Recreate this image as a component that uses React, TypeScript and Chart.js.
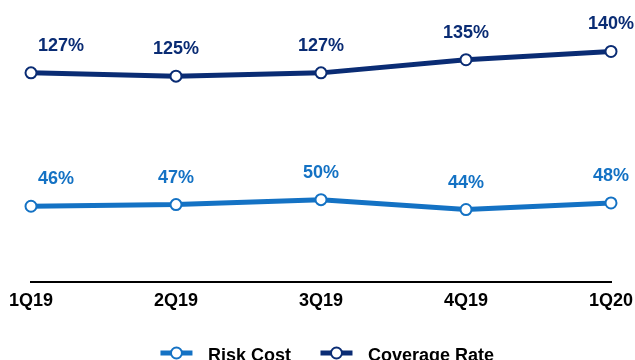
import React, { useEffect, useRef } from "react";
import { Chart, registerables } from "chart.js";

Chart.register(...registerables);

const categories = ["1Q19", "2Q19", "3Q19", "4Q19", "1Q20"];
const riskCost = [46, 47, 50, 44, 48];
const coverageRate = [127, 125, 127, 135, 140];
const seriesNames = ["Risk Cost", "Coverage Rate"];

const LIGHT = "#1472c4";
const NAVY = "#0a2c74";
const FONT = "'Liberation Sans', Arial, sans-serif";

const labelPlugin = {
  id: "valueLabels",
  afterDatasetsDraw(chart: any) {
    const ctx = chart.ctx;
    ctx.save();
    ctx.font = `bold 18px ${FONT}`;
    ctx.textBaseline = "middle";
    chart.data.datasets.forEach((ds: any, di: number) => {
      const meta = chart.getDatasetMeta(di);
      ctx.fillStyle = ds.borderColor;
      meta.data.forEach((pt: any, i: number) => {
        const text = ds.data[i] + "%";
        if (i === 0) {
          ctx.textAlign = "left";
          ctx.fillText(text, pt.x + 7, pt.y - 27);
        } else {
          ctx.textAlign = "center";
          ctx.fillText(text, pt.x, pt.y - 27);
        }
      });
    });
    ctx.restore();
  },
};

const legendPlugin = {
  id: "customLegend",
  afterDraw(chart: any) {
    const ctx = chart.ctx;
    ctx.save();
    ctx.font = `bold 18px ${FONT}`;
    const box = 45;
    const gap = 9;
    const itemGap = 23;
    const items = chart.data.datasets.map((ds: any) => ({
      label: ds.label,
      color: ds.borderColor,
      w: ctx.measureText(ds.label).width,
    }));
    const total =
      items.reduce((s: number, it: any) => s + box + gap + it.w, 0) +
      itemGap * (items.length - 1);
    let x = 324 - total / 2;
    const cy = 353;
    items.forEach((it: any) => {
      const cx = x + box / 2;
      ctx.strokeStyle = it.color;
      ctx.lineWidth = 5;
      ctx.beginPath();
      ctx.moveTo(cx - 16, cy);
      ctx.lineTo(cx + 16, cy);
      ctx.stroke();
      ctx.beginPath();
      ctx.arc(cx, cy, 5.5, 0, Math.PI * 2);
      ctx.fillStyle = "#ffffff";
      ctx.fill();
      ctx.lineWidth = 2;
      ctx.stroke();
      ctx.fillStyle = "#000000";
      ctx.textAlign = "left";
      ctx.textBaseline = "alphabetic";
      ctx.fillText(it.label, x + box + gap, 361);
      x += box + gap + it.w + itemGap;
    });
    ctx.restore();
  },
};

export default function App() {
  const ref = useRef<HTMLCanvasElement | null>(null);
  useEffect(() => {
    if (!ref.current) return;
    const chart = new Chart(ref.current, {
      type: "line",
      data: {
        labels: categories,
        datasets: [
          {
            label: seriesNames[0],
            data: riskCost,
            borderColor: LIGHT,
            backgroundColor: "#ffffff",
            borderWidth: 5,
            pointRadius: 5.5,
            pointBorderWidth: 2,
            pointBackgroundColor: "#ffffff",
            pointBorderColor: LIGHT,
            tension: 0,
          },
          {
            label: seriesNames[1],
            data: coverageRate,
            borderColor: NAVY,
            backgroundColor: "#ffffff",
            borderWidth: 5,
            pointRadius: 5.5,
            pointBorderWidth: 2,
            pointBackgroundColor: "#ffffff",
            pointBorderColor: NAVY,
            tension: 0,
          },
        ],
      },
      options: {
        animation: false,
        responsive: false,
        maintainAspectRatio: false,
        layout: { padding: { top: 35, left: 31, right: 24, bottom: 40.4 } },
        plugins: {
          legend: { display: false },
          tooltip: { enabled: false },
        },
        scales: {
          x: {
            offset: false,
            grid: { display: false, drawTicks: false },
            border: { display: true, color: "#000000", width: 2 },
            ticks: {
              color: "#000000",
              font: { family: FONT, size: 18, weight: "bold" },
              padding: 8,
              maxRotation: 0,
              autoSkip: false,
            },
            afterFit(scale: any) {
              scale.paddingLeft = 0;
              scale.paddingRight = 0;
            },
          },
          y: {
            display: false,
            min: 0,
            max: 150,
          },
        },
      },
      plugins: [labelPlugin, legendPlugin],
    });
    return () => chart.destroy();
  }, []);
  return (
    <div style={{ position: "fixed", left: 0, top: 0, width: 635, height: 360, background: "#ffffff" }}>
      <canvas ref={ref} width={635} height={360} style={{ display: "block", width: 635, height: 360 }} />
    </div>
  );
}
